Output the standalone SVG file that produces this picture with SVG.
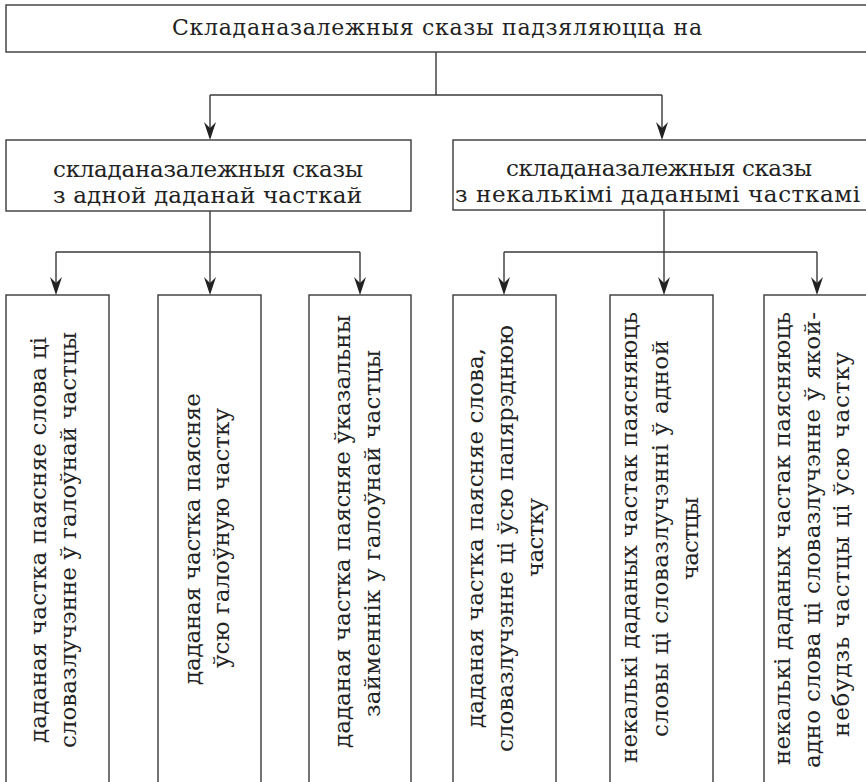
<svg xmlns="http://www.w3.org/2000/svg" width="866" height="782" viewBox="0 0 866 782">
<defs>
<style>
.box{fill:#fff;stroke:#3a3a3a;stroke-width:1.4}
.ln{fill:none;stroke:#3a3a3a;stroke-width:1.4}
text{font-family:'DejaVu Serif','Liberation Serif',serif;fill:#222;text-anchor:middle}
.t1{font-size:22px}
.t2{font-size:23px}
.ah{fill:#222}
</style>
<path id="arr" d="M0,0 L-6,-18 L0,-12 L6,-18 Z"/>
</defs>
<rect width="866" height="782" fill="#fff"/>
<g id="connectors">
<path class="ln" d="M436,52 V95 M210,95 H662 M210,95 V128 M662,95 V128"/>
<path class="ln" d="M210,211 V252 M56,252 H360 M56,252 V284 M210,252 V284 M360,252 V284"/>
<path class="ln" d="M664,210 V252 M504,252 H817 M504,252 V284 M664,252 V284 M817,252 V284"/>
<use href="#arr" class="ah" x="210" y="140"/>
<use href="#arr" class="ah" x="662" y="140"/>
<use href="#arr" class="ah" x="56" y="295"/>
<use href="#arr" class="ah" x="210" y="295"/>
<use href="#arr" class="ah" x="360" y="295"/>
<use href="#arr" class="ah" x="504" y="295"/>
<use href="#arr" class="ah" x="664" y="295"/>
<use href="#arr" class="ah" x="817" y="295"/>
</g>
<g id="root">
<rect class="box" x="6" y="5" width="870" height="47"/>
<text class="t1" x="437" y="35" textLength="530" lengthAdjust="spacing">Складаназалежныя сказы падзяляюцца на</text>
</g>
<g id="one">
<rect class="box" x="6" y="140" width="405" height="71"/>
<text class="t2" x="208" y="177" textLength="310" lengthAdjust="spacing">складаназалежныя сказы</text>
<text class="t2" x="207.5" y="203" textLength="309" lengthAdjust="spacing">з адной даданай часткай</text>
</g>
<g id="many">
<rect class="box" x="453" y="140" width="420" height="70"/>
<text class="t2" x="659" y="176" textLength="306" lengthAdjust="spacing">складаназалежныя сказы</text>
<text class="t2" x="657.5" y="202" textLength="405" lengthAdjust="spacing">з некалькімі даданымі часткамі</text>
</g>
<g id="b1">
<rect class="box" x="6" y="295" width="103" height="500"/>
<text class="t2" transform="translate(46,540) rotate(-90)" textLength="406" lengthAdjust="spacing">даданая частка паясняе слова ці</text>
<text class="t2" transform="translate(76,540) rotate(-90)" textLength="416" lengthAdjust="spacing">словазлучэнне ў галоўнай частцы</text>
</g>
<g id="b2">
<rect class="box" x="158" y="295" width="103" height="500"/>
<text class="t2" transform="translate(200,539) rotate(-90)" textLength="292" lengthAdjust="spacing">даданая частка паясняе</text>
<text class="t2" transform="translate(229,538) rotate(-90)" textLength="260" lengthAdjust="spacing">ўсю галоўную частку</text>
</g>
<g id="b3">
<rect class="box" x="309" y="295" width="102" height="500"/>
<text class="t2" transform="translate(350,531.5) rotate(-90)" textLength="433" lengthAdjust="spacing">даданая частка паясняе ўказальны</text>
<text class="t2" transform="translate(380,533.5) rotate(-90)" textLength="367" lengthAdjust="spacing">займеннік у галоўнай частцы</text>
</g>
<g id="b4">
<rect class="box" x="453" y="295" width="103" height="500"/>
<text class="t2" transform="translate(483,538) rotate(-90)" textLength="380" lengthAdjust="spacing">даданая частка паясняе слова,</text>
<text class="t2" transform="translate(513,538.5) rotate(-90)" textLength="427" lengthAdjust="spacing">словазлучэнне ці ўсю папярэднюю</text>
<text class="t2" transform="translate(543,537.5) rotate(-90)" textLength="79" lengthAdjust="spacing">частку</text>
</g>
<g id="b5">
<rect class="box" x="610" y="295" width="103" height="500"/>
<text class="t2" transform="translate(637,537.5) rotate(-90)" textLength="451" lengthAdjust="spacing">некалькі даданых частак паясняюць</text>
<text class="t2" transform="translate(668,538.5) rotate(-90)" textLength="397" lengthAdjust="spacing">словы ці словазлучэнні ў адной</text>
<text class="t2" transform="translate(698,538.5) rotate(-90)" textLength="83" lengthAdjust="spacing">частцы</text>
</g>
<g id="b6">
<rect class="box" x="764" y="295" width="110" height="500"/>
<text class="t2" transform="translate(790,538.5) rotate(-90)" textLength="453" lengthAdjust="spacing">некалькі даданых частак паясняюць</text>
<text class="t2" transform="translate(820,540) rotate(-90)" textLength="456" lengthAdjust="spacing">адно слова ці словазлучэнне ў якой-</text>
<text class="t2" transform="translate(849,544.5) rotate(-90)" textLength="385" lengthAdjust="spacing">небудзь частцы ці ўсю частку</text>
</g>
</svg>
